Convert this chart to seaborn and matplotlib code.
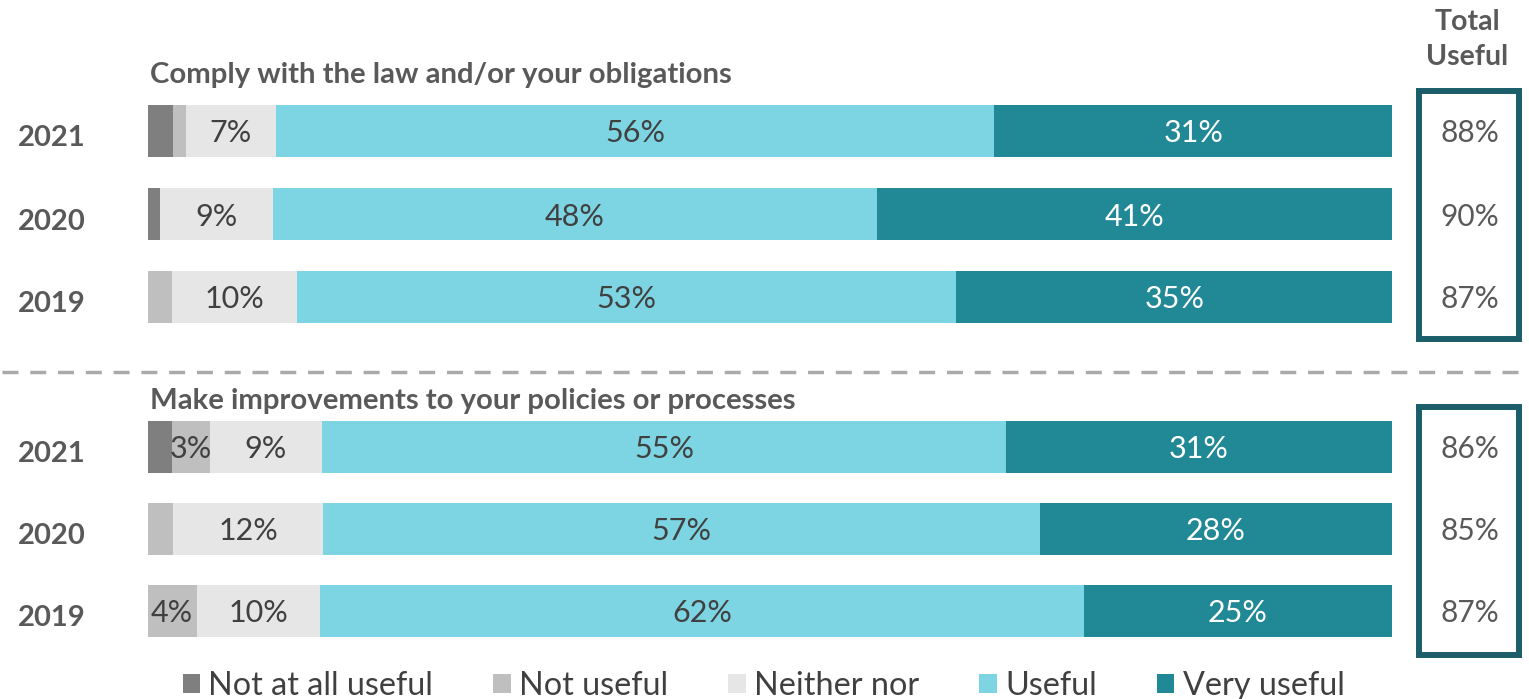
import matplotlib
matplotlib.use("Agg")
import matplotlib.pyplot as plt
import matplotlib.transforms as mtransforms
from matplotlib.patches import Patch, Rectangle
from matplotlib.lines import Line2D
import numpy as np
import pandas as pd
import seaborn as sns

# ---- data ----
years = ["2021", "2020", "2019"]
categories = ["Not at all useful", "Not useful", "Neither nor", "Useful", "Very useful"]

comply_title = "Comply with the law and/or your obligations"
comply_not_at_all = [2, 1, 0]
comply_not_useful = [1, 0, 2]
comply_neither = [7, 9, 10]
comply_useful = [56, 48, 53]
comply_very = [31, 41, 35]
comply_total = [88, 90, 87]

improve_title = "Make improvements to your policies or processes"
improve_not_at_all = [2, 0, 0]
improve_not_useful = [3, 2, 4]
improve_neither = [9, 12, 10]
improve_useful = [55, 57, 62]
improve_very = [31, 28, 25]
improve_total = [86, 85, 87]

colors = ["#7F7F7F", "#BFBFBF", "#E6E6E6", "#7DD4E3", "#218896"]
label_colors = ["#404040", "#404040", "#404040", "#404040", "#FFFFFF"]

sns.set_theme(style="white")
plt.rcParams["font.family"] = ["Lato", "DejaVu Sans"]

W, H = 1529, 699
fig = plt.figure(figsize=(W / 100, H / 100), dpi=100)


def px_rect(left, top, right, bottom):
    return [left / W, (H - bottom) / H, (right - left) / W, (bottom - top) / H]


def long_frame(series):
    rows = []
    for yi, yr in enumerate(years):
        vals = [s[yi] for s in series]
        total = sum(vals)
        cum = 0.0
        for cat, v in zip(categories, vals):
            share = 100.0 * v / total
            cum += share
            rows.append(dict(year=yr, category=cat, value=v, share=share, cum=cum))
    return pd.DataFrame(rows)


def draw_group(ax, series, totals, title, title_baseline, box):
    df = long_frame(series)
    # stacked look: draw cumulative extents from the outermost segment inwards
    for cat, col in reversed(list(zip(categories, colors))):
        sub = df[df["category"] == cat]
        sns.barplot(data=sub, x="cum", y="year", order=years, orient="h",
                    color=col, width=0.63, saturation=1, ax=ax,
                    edgecolor="none", linewidth=0, errorbar=None)
    ax.set_xlim(0, 100)
    ax.set_ylim(2.5, -0.5)
    ax.set_xlabel("")
    ax.set_ylabel("")
    ax.set_xticks([])
    for s in ax.spines.values():
        s.set_visible(False)
    ax.tick_params(axis="y", length=0, pad=44.5, labelsize=21, labelcolor="#595959")
    offset = mtransforms.ScaledTranslation(0, -5 / 100, fig.dpi_scale_trans)
    for lab in ax.get_yticklabels():
        lab.set_fontweight("bold")
        lab.set_transform(lab.get_transform() + offset)

    # segment value labels
    for ci, cat in enumerate(categories):
        sub = df[df["category"] == cat]
        for yi, yr in enumerate(years):
            r = sub[sub["year"] == yr].iloc[0]
            if r["value"] >= 3:
                ax.text(r["cum"] - r["share"] / 2, yi, f"{int(r['value'])}%",
                        ha="center", va="center_baseline", fontsize=22,
                        color=label_colors[ci])

    # group heading
    fig.text(150 / W, (H - title_baseline) / H, title, ha="left", va="baseline",
             fontsize=21.1, fontweight="bold", color="#595959")

    # total useful column
    tr = mtransforms.blended_transform_factory(fig.transFigure, ax.transData)
    for yi, t in enumerate(totals):
        ax.text(1470 / W, yi, f"{t}%", transform=tr, ha="center",
                va="center_baseline", fontsize=21.5, color="#595959")
    l, t_, r_, b = box
    fig.add_artist(Rectangle((l / W, (H - b) / H), (r_ - l) / W, (b - t_) / H,
                             transform=fig.transFigure, fill=False,
                             edgecolor="#1B5E69", linewidth=4.3))


ax1 = fig.add_axes(px_rect(147.5, 89.5, 1392, 338.5))
ax2 = fig.add_axes(px_rect(147.5, 405.7, 1392, 651.8))

draw_group(ax1,
           [comply_not_at_all, comply_not_useful, comply_neither, comply_useful, comply_very],
           comply_total, comply_title, 83, (1419, 91, 1519, 339))
draw_group(ax2,
           [improve_not_at_all, improve_not_useful, improve_neither, improve_useful, improve_very],
           improve_total, improve_title, 409, (1419, 406.5, 1519, 654.5))

# column header
fig.text(1467 / W, (H - 30) / H, "Total", ha="center", va="baseline",
         fontsize=20.5, fontweight="bold", color="#595959")
fig.text(1467 / W, (H - 65) / H, "Useful", ha="center", va="baseline",
         fontsize=20.5, fontweight="bold", color="#595959")

# separator between the two groups
sep = Line2D([2 / W, 1], [(H - 372) / H] * 2, transform=fig.transFigure,
             color="#AAAAAA", linewidth=2.5, dashes=(4.6, 3.4))
fig.add_artist(sep)

# legend
handles = [Patch(facecolor=c, edgecolor="none", label=l) for c, l in zip(colors, categories)]
fig.legend(handles=handles, loc="center", bbox_to_anchor=(763.5 / W, (H - 686) / H),
           ncol=5, frameon=False, fontsize=23.3, handlelength=0.55, handleheight=0.55,
           handletextpad=0.25, columnspacing=1.85, labelcolor="#404040",
           borderaxespad=0, borderpad=0)

fig.savefig("out.png", dpi=100)
